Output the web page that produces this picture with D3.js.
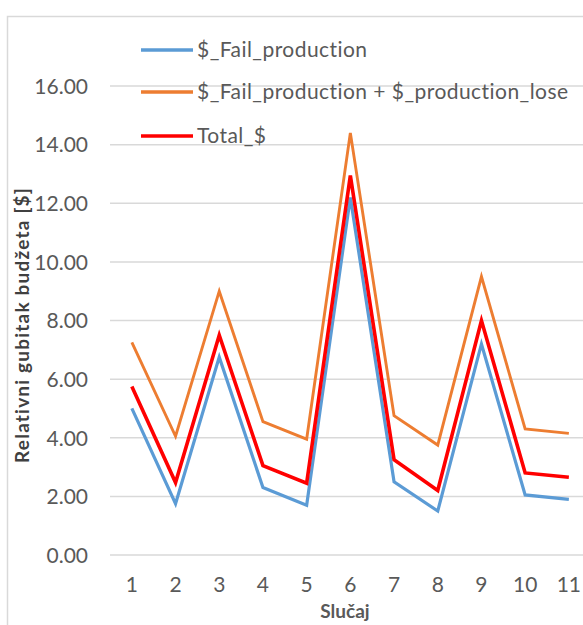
<!DOCTYPE html>
<html><head><meta charset="utf-8">
<script src="https://cdn.jsdelivr.net/npm/d3@7"></script>
<style>body{margin:0;background:#fff;overflow:hidden}</style>
</head><body><svg id="c" width="583" height="625"></svg>
<script>
const categories = ["1","2","3","4","5","6","7","8","9","10","11"];
const failProduction = [5.0,1.75,6.75,2.3,1.7,12.2,2.5,1.5,7.2,2.05,1.9];
const failPlusLose = [7.25,4.05,9.0,4.55,3.95,14.4,4.75,3.75,9.5,4.3,4.15];
const total = [5.75,2.47,7.5,3.05,2.45,12.95,3.25,2.2,8.0,2.8,2.65];
const yTicks = [0,2,4,6,8,10,12,14,16];
const seriesNames = ["$_Fail_production","$_Fail_production + $_production_lose","Total_$"];

const svg = d3.select("#c");
const fontF = "'Lato',sans-serif";
svg.append("rect").attr("x",7.5).attr("y",16.5).attr("width",700).attr("height",700)
  .attr("fill","#fff").attr("stroke","#d9d9d9").attr("stroke-width",1.5);

const x = d3.scaleBand().domain(categories).range([110, 110+11*43.7]);
const y = d3.scaleLinear().domain([0,16]).range([555, 86]);

const grid = svg.append("g");
yTicks.forEach(t=>{
  grid.append("line").attr("x1",110).attr("x2",600).attr("y1",y(t)).attr("y2",y(t))
    .attr("stroke","#d9d9d9").attr("stroke-width",1.5);
});
const yAxis = d3.axisLeft(y).tickValues(yTicks).tickFormat(d3.format(".2f")).tickSize(0).tickPadding(0);
const ya = svg.append("g").attr("transform","translate(88,0)").call(yAxis);
ya.select(".domain").remove();
ya.selectAll("text").attr("fill","#595959").attr("font-size",21).attr("font-family",fontF).attr("dy","0.35em");

const xAxis = d3.axisBottom(x).tickSize(0).tickPadding(0);
const xa = svg.append("g").attr("transform","translate(0,577)").call(xAxis);
xa.select(".domain").remove();
xa.selectAll("text").attr("fill","#595959").attr("font-size",21).attr("font-family",fontF).attr("dy","0.71em");

svg.append("text").attr("x",345).attr("y",618).attr("text-anchor","middle")
  .attr("font-family",fontF).attr("font-weight","bold").attr("font-size",19).attr("fill","#595959").text("Slučaj");
svg.append("text").attr("transform","translate(29,325) rotate(-90)").attr("text-anchor","middle")
  .attr("font-family",fontF).attr("font-weight","bold").attr("font-size",19).attr("letter-spacing",1.2)
  .attr("fill","#404040").text("Relativni gubitak budžeta  [$]");

const line = d3.line().x((d,i)=>x(categories[i])+x.bandwidth()/2).y(d=>y(d));
const series = [
  {name:seriesNames[0], vals:failProduction, color:"#5B9BD5", w:3.2},
  {name:seriesNames[1], vals:failPlusLose, color:"#ED7D31", w:2.9},
  {name:seriesNames[2], vals:total, color:"#FF0000", w:3.6}
];
series.forEach(s=>{
  svg.append("path").attr("d",line(s.vals)).attr("fill","none").attr("stroke",s.color)
    .attr("stroke-width",s.w).attr("stroke-linejoin","miter");
});

const legY = [50, 92, 136];
series.forEach((s,i)=>{
  svg.append("line").attr("x1",141).attr("x2",193).attr("y1",legY[i]).attr("y2",legY[i])
    .attr("stroke",s.color).attr("stroke-width",3.5);
  svg.append("text").attr("x",197).attr("y",legY[i]).attr("dy","0.35em").attr("letter-spacing",0.45)
    .attr("font-family",fontF).attr("font-size",21).attr("fill","#595959").text(s.name);
});
</script></body></html>
